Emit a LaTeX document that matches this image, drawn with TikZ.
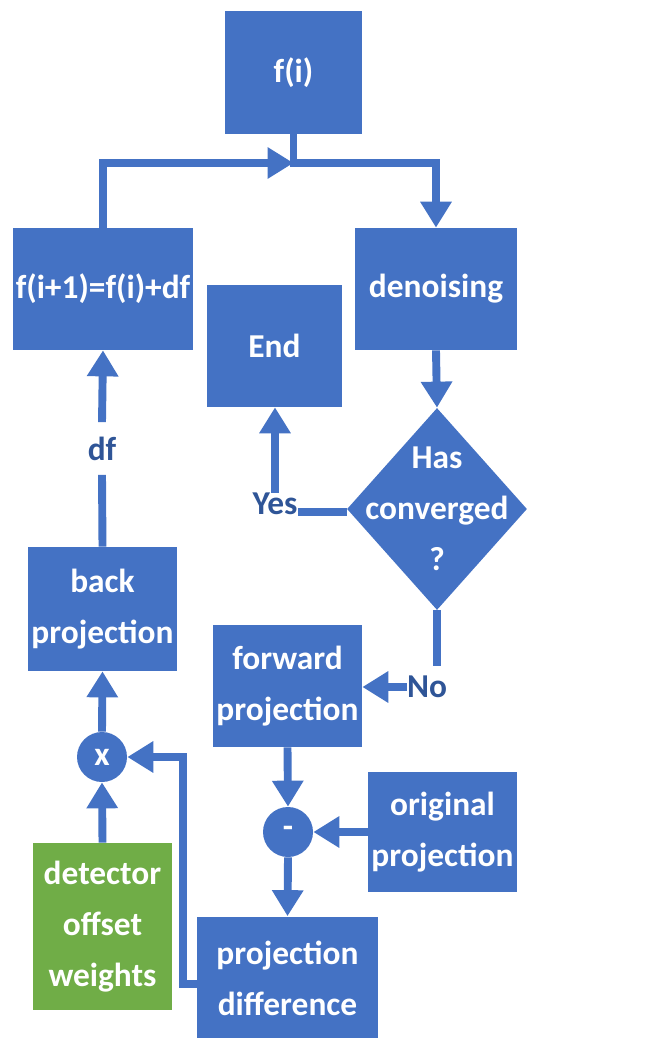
\documentclass[tikz,border=0pt]{standalone}
\usepackage{fontspec}
\setmainfont{Carlito}
\usetikzlibrary{arrows.meta,shapes.geometric}

\definecolor{boxblue}{RGB}{68,114,196}
\definecolor{boxgreen}{RGB}{112,173,71}
\definecolor{labelblue}{RGB}{47,85,151}

\begin{document}
\begin{tikzpicture}[
        font=\fontsize{19}{29}\selectfont\bfseries,
        block/.style={
            fill=boxblue,
            text=white,
            align=center,
            inner sep=0pt
        },
        op/.style={
            circle,
            fill=boxblue,
            text=white,
            minimum size=1cm,
            inner sep=0pt
        },
        tag/.style={
            text=labelblue,
            inner sep=0pt
        },
        conn/.style={
            draw=boxblue,
            line width=4.5pt,
            -{Triangle[length=0.52cm,width=0.6cm]}
        },
        wire/.style={
            draw=boxblue,
            line width=4.5pt
        }
    ]
        \useasboundingbox (0,0) rectangle (13.2,-20.76);

        \node[block, minimum width=2.74cm, minimum height=2.46cm] (fi) at (5.87,-1.45) {f(i)};
        \node[block, minimum width=3.6cm, minimum height=2.44cm] (update) at (2.06,-5.78) {f(i+1)=f(i)+df};
        \node[block, minimum width=3.24cm, minimum height=2.44cm] (denoise) at (8.72,-5.78) {denoising};
        \node[block, minimum width=2.7cm, minimum height=2.44cm] (endbox) at (5.49,-6.92) {End};

        \node[
            diamond,
            fill=boxblue,
            inner sep=0pt,
            minimum width=3.6cm,
            minimum height=4.04cm,
            label={[text=white, align=center]center:Has\\converged\\?}
        ] (conv) at (8.74,-10.18) {};

        \node[block, minimum width=2.98cm, minimum height=2.48cm] (backproj) at (2.05,-12.18) {back\\projection};
        \node[block, minimum width=2.98cm, minimum height=2.44cm] (fwdproj) at (5.75,-13.72) {forward\\projection};
        \node[block, minimum width=2.98cm, minimum height=2.4cm] (origproj) at (8.85,-16.64) {original\\projection};
        \node[block, minimum width=3.62cm, minimum height=2.46cm] (projdiff) at (5.75,-19.56) {projection\\difference};
        \node[
            block,
            fill=boxgreen,
            minimum width=2.78cm,
            minimum height=3.34cm
        ] (detector) at (2.05,-18.53) {detector\\offset\\weights};

        \node[op] (mult) at (2.04,-15.14) {x};
        \node[op] (minus) at (5.76,-16.64) {-};

        \node[tag, minimum height=1.04cm] (df) at (2.04,-8.97) {df};
        \node[tag] (yes) at (5.5,-10.08) {Yes};
        \node[tag] (no) at (8.54,-13.74) {No};

        \coordinate (top) at (5.87,-3.26);
        \coordinate (bend) at (3.66,-15.14);

        \draw[conn] (update.north) |- (top);
        \draw[conn] (fi.south) -- (top) -| (denoise.north);
        \draw[conn] (denoise.south) -- (conv.north);

        \draw[wire] ([yshift=-0.06cm]conv.west) -- ([yshift=-0.06cm]conv.west -| yes.east);
        \draw[conn] (yes.north) -- (yes.north |- endbox.south);
        \draw[wire] (conv.south) -- ([yshift=0.2cm]conv.south |- no.north);
        \draw[conn] (no.west) -- (no.west -| fwdproj.east);

        \draw[wire] (backproj.north) -- (df.south);
        \draw[conn] (df.north) -- (update.south);
        \draw[conn] (mult.north) -- (backproj.south);
        \draw[conn] (detector.north) -- (mult.south);

        \draw[conn] (fwdproj.south) -- (minus.north);
        \draw[conn] (origproj.west) -- (minus.east);
        \draw[conn] (minus.south) -- (projdiff.north);
        \draw[conn] ([yshift=-0.12cm]projdiff.west) -| (bend) -- (mult.east);
    \end{tikzpicture}
\end{document}
